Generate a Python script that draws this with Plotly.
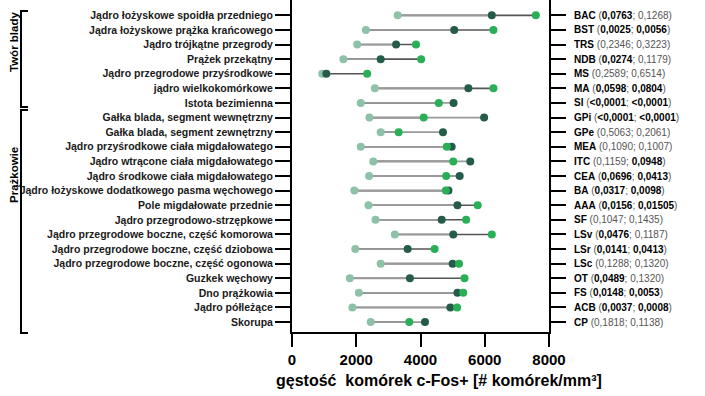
import plotly.graph_objects as go

regions_pl = [
    "Jądro łożyskowe spoidła przedniego",
    "Jądra łożyskowe prążka krańcowego",
    "Jądro trójkątne przegrody",
    "Prążek przekątny",
    "Jądro przegrodowe przyśrodkowe",
    "jądro wielkokomórkowe",
    "Istota bezimienna",
    "Gałka blada, segment wewnętrzny",
    "Gałka blada, segment zewnętrzny",
    "Jądro przyśrodkowe ciała migdałowatego",
    "Jądro wtrącone ciała migdałowatego",
    "Jądro środkowe ciała migdałowatego",
    "Jądro łożyskowe dodatkowego pasma węchowego",
    "Pole migdałowate przednie",
    "Jądro przegrodowo-strzępkowe",
    "Jądro przegrodowe boczne, część komorowa",
    "Jądro przegrodowe boczne, część dziobowa",
    "Jądro przegrodowe boczne, część ogonowa",
    "Guzkek węchowy",
    "Dno prążkowia",
    "Jądro półleżące",
    "Skorupa",
]
abbrev = ["BAC", "BST", "TRS", "NDB", "MS", "MA", "SI", "GPi", "GPe", "MEA", "ITC",
          "CEA", "BA", "AAA", "SF", "LSv", "LSr", "LSc", "OT", "FS", "ACB", "CP"]
p_first = ["0,0763", "0,0025", "0,2346", "0,0274", "0,2589", "0,0598", "<0,0001", "<0,0001",
           "0,5063", "0,1090", "0,1159", "0,0696", "0,0317", "0,0156", "0,1047", "0,0476",
           "0,0141", "0,1288", "0,0489", "0,0148", "0,0037", "0,1818"]
p_second = ["0,1268", "0,0056", "0,3223", "0,1179", "0,6514", "0,0804", "<0,0001", "<0,0001",
            "0,2061", "0,1007", "0,0948", "0,0413", "0,0098", "0,01505", "0,1435", "0,1187",
            "0,0413", "0,1320", "0,1320", "0,0053", "0,0008", "0,1138"]

# c-Fos+ cell density (cells/mm^3) for three groups
group_light = [3290, 2300, 2030, 1600, 940, 2580, 2140, 2410, 2760, 2140, 2530,
               2400, 1940, 2380, 2600, 3200, 1970, 2760, 1800, 2080, 1880, 2450]
group_dark = [6220, 5050, 3240, 2760, 1070, 5490, 5030, 5980, 4700, 4970, 5550,
              5220, 4870, 5150, 4660, 5020, 3600, 5000, 3670, 5150, 4930, 4140]
group_bright = [7590, 6270, 3860, 4020, 2340, 6270, 4570, 4100, 3320, 4820, 5020,
                4800, 4790, 5780, 5420, 6220, 4440, 5200, 5370, 5330, 5140, 3650]

x_ticks = [0, 2000, 4000, 6000, 8000]
x_title = "gęstość  komórek c-Fos+ [# komórek/mm³]"
group_labels = ["Twór blady", "Prążkowie"]

rows = list(range(len(regions_pl)))


def pval(s):
    return float(s.replace("<", "").replace(",", "."))


def fmt_p(s):
    if pval(s) < 0.1:
        return "<b>%s</b>" % s.replace("<", "&lt;")
    return "<span style='color:#555'>%s</span>" % s.replace("<", "&lt;")


right_labels = []
for a, p1, p2 in zip(abbrev, p_first, p_second):
    right_labels.append("<b>%s</b> <span style='color:#555'>(</span>%s<span style='color:#555'>; </span>%s<span style='color:#555'>)</span>"
                        % (a, fmt_p(p1), fmt_p(p2)))

lx_b, ly_b, lx_d, ly_d = [], [], [], []
for i in rows:
    lx_b += [group_light[i], group_bright[i], None]
    ly_b += [i, i, None]
    lx_d += [group_light[i], group_dark[i], None]
    ly_d += [i, i, None]

fig = go.Figure()
fig.add_trace(go.Scatter(x=lx_b, y=ly_b, mode="lines", line=dict(color="#555555", width=1.6),
                         hoverinfo="skip", showlegend=False))
fig.add_trace(go.Scatter(x=lx_d, y=ly_d, mode="lines", line=dict(color="#9a9a9a", width=1.8),
                         hoverinfo="skip", showlegend=False))
fig.add_trace(go.Scatter(x=group_light, y=rows, mode="markers",
                         marker=dict(color="#8dc2a8", size=8), showlegend=False))
fig.add_trace(go.Scatter(x=group_dark, y=rows, mode="markers",
                         marker=dict(color="#245c49", size=8), showlegend=False))
fig.add_trace(go.Scatter(x=group_bright, y=rows, mode="markers",
                         marker=dict(color="#29af56", size=8), showlegend=False))
fig.add_trace(go.Scatter(x=group_bright, y=rows, mode="markers", yaxis="y2",
                         marker=dict(opacity=0), hoverinfo="skip", showlegend=False))

W, H = 705, 396
L, R, T, B = 292, 549, 0, 332
yr = [21.68, -1.05]


def px_x(p):
    return (p - L) / (R - L)


def px_y(p):
    return (B - p) / (B - T)


fig.update_layout(
    width=W, height=H,
    margin=dict(l=L, r=W - R, t=T, b=H - B),
    plot_bgcolor="white", paper_bgcolor="white",
    font=dict(family="Arial, Liberation Sans, sans-serif", color="black"),
    xaxis=dict(range=[0, 8000], tickvals=x_ticks, ticktext=["<b>%d</b>" % v for v in x_ticks],
               showline=True, linecolor="black", linewidth=2, ticks="outside", ticklen=13,
               tickwidth=2, tickcolor="black", showgrid=False, zeroline=False,
               tickfont=dict(size=15)),
    yaxis=dict(range=yr, tickvals=rows, ticktext=["<b>%s</b>" % s for s in regions_pl],
               showline=True, linecolor="black",
               linewidth=2, ticks="outside", ticklen=15, tickwidth=2, tickcolor="black",
               showgrid=False, zeroline=False, tickfont=dict(size=10.5, color="#1a1a1a")),
    yaxis2=dict(range=yr, tickvals=rows, ticktext=right_labels, overlaying="y", side="right",
                showline=True, linecolor="black", linewidth=2, ticks="outside", ticklen=15,
                tickwidth=2, tickcolor="black", showgrid=False, zeroline=False,
                tickfont=dict(size=10, color="black"), ticklabelstandoff=6),
)

# x-axis title
fig.add_annotation(x=px_x(439), y=px_y(380), xref="paper", yref="paper",
                   text="<b>" + x_title + "</b>", showarrow=False,
                   font=dict(size=16, color="black"), xanchor="center", yanchor="middle")

# group brackets
brackets = [(11, 107, 42, group_labels[0]), (110, 333, 175, group_labels[1])]
for y0, y1, yc, lab in brackets:
    fig.add_shape(type="line", xref="paper", yref="paper", x0=px_x(21), x1=px_x(21),
                  y0=px_y(y0), y1=px_y(y1), line=dict(color="black", width=2))
    fig.add_shape(type="line", xref="paper", yref="paper", x0=px_x(20), x1=px_x(28),
                  y0=px_y(y0), y1=px_y(y0), line=dict(color="black", width=2))
    fig.add_shape(type="line", xref="paper", yref="paper", x0=px_x(20), x1=px_x(28),
                  y0=px_y(y1), y1=px_y(y1), line=dict(color="black", width=2))
    fig.add_annotation(x=px_x(14), y=px_y(yc), xref="paper", yref="paper", text="<b>" + lab + "</b>",
                       textangle=-90, showarrow=False, font=dict(size=11.5, color="black"),
                       xanchor="center", yanchor="middle")

fig.write_html("out.html", post_script="document.body.style.margin='0';",
               config={"displayModeBar": False})
